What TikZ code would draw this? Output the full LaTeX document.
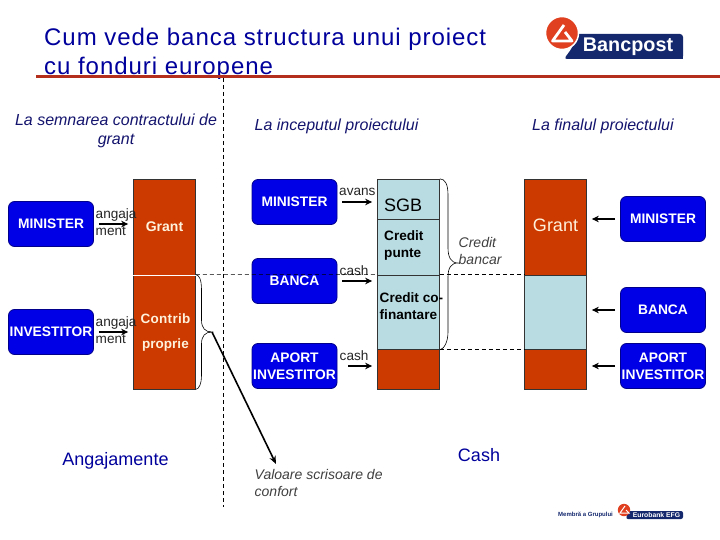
\documentclass[tikz,border=0pt]{standalone}
\usepackage{fontspec}
\setmainfont{Liberation Sans}
\usetikzlibrary{arrows.meta}
\definecolor{boxblue}{HTML}{0000E6}
\definecolor{boxedge}{HTML}{00008C}
\definecolor{navytext}{HTML}{00009C}
\definecolor{labeltext}{HTML}{14146E}
\definecolor{colred}{HTML}{CC3A00}
\definecolor{colblue}{HTML}{B8DCE2}
\definecolor{rulered}{HTML}{B5301C}
\definecolor{logonavy}{HTML}{14286E}
\definecolor{logored}{HTML}{E04020}
\definecolor{cream}{HTML}{FFF2DC}
\newcommand{\fs}[2]{\fontsize{#1}{#2}\selectfont}
\tikzset{
  actor/.style={draw=boxedge,line width=0.8pt,fill=boxblue,rounded corners=6pt,minimum width=85pt,minimum height=45pt,inner sep=0pt,text=white,font=\fs{13.8}{25}\bfseries,align=center},
  redcol/.style={draw=black!80,line width=0.7pt,fill=colred,minimum width=62pt,inner sep=0pt,text=cream,align=center},
  bluecol/.style={draw=black!80,line width=0.7pt,fill=colblue,minimum width=62pt,inner sep=0pt,align=center},
  flow/.style={line width=1.6pt,-{Stealth[length=7pt,width=6.5pt]}},
  dashline/.style={dashed,line width=0.6pt,dash pattern=on 4pt off 3pt},
  bracepath/.style={line width=0.6pt,black},
  smalllab/.style={inner sep=0pt,font=\fs{13.6}{16},text=black!85},
  phase/.style={inner sep=0pt,font=\fs{16}{18.5}\itshape,text=labeltext,align=center},
  heading/.style={inner sep=0pt,font=\fs{18}{20},text=navytext}
}
\begin{document}
\begin{tikzpicture}[x=1pt,y=-1pt]
\useasboundingbox (0,0) rectangle (720,540);
\fill[white] (0,0) rectangle (720,540);
% title
\node[inner sep=0pt,anchor=base west,text=navytext,font=\fs{24}{29}] (title1) at (44,46) {\addfontfeature{LetterSpace=4}Cum vede banca structura unui proiect};
\node[inner sep=0pt,anchor=base west,text=navytext,font=\fs{24}{29}] (title2) at (44,75) {\addfontfeature{LetterSpace=4}cu fonduri europene};
\draw[rulered,line width=3pt] (36,77) -- (720,77);
% logo
\fill[logonavy,rounded corners=3pt] (576,34) -- (683,34) -- (683,59) -- (572,59) -- (564,59) -- (572,48) -- cycle;
\fill[logonavy] (683,50) rectangle (680,59);
\fill[logored,draw=white,line width=1.5pt] (562,33) circle (16.5);
\draw[white,line width=2.8pt,line join=round] (564,25) -- (552.5,41) -- (572,41) -- (565,32);
\node[inner sep=0pt,text=white,font=\fs{19.8}{24}\bfseries] (bancpost) at (628,46.5) {Bancpost};
% footer logo
\node[inner sep=0pt,anchor=west,text=logonavy,font=\fs{6}{7}\bfseries] (membra) at (558,515) {Membră a Grupului};
\fill[logonavy,rounded corners=2pt] (628,511) -- (683,511) -- (683,519) -- (626,519) -- cycle;
\fill[logored] (624,510) circle (6.2);
\draw[white,line width=1pt] (625,506) -- (620,513) -- (629,513) -- (626,510);
\node[inner sep=0pt,text=white,font=\fs{6.8}{8}\bfseries] (eurobank) at (656.5,515) {Eurobank EFG};
% phase labels
\node[phase] (ph1) at (116,131) {La semnarea contractului de\\grant};
\node[phase,anchor=west] (ph2) at (254.5,126) {La inceputul proiectului};
\node[phase,anchor=west] (ph3) at (532,126) {La finalul proiectului};
% left column
\node[redcol,minimum height=95.5pt,font=\fs{14}{16}\bfseries] (lgrant) at (164.5,227.3) {\raisebox{2pt}{Grant}};
\node[redcol,minimum height=114pt] (lcontrib) at (164.5,332) {};
\draw[white,line width=1pt] (lgrant.south west) -- (lgrant.south east);
\node[inner sep=0pt,text=cream,font=\fs{13.5}{25}\bfseries,align=center] (lcontribtxt) at (165.5,333) {\addfontfeature{LetterSpace=2}Contrib\\proprie};
% mid column
\node[bluecol,minimum height=40pt] (msgb) at (408.5,199.2) {};
\node[bluecol,minimum height=56pt] (mpunte) at (408.5,247) {};
\node[bluecol,minimum height=74.5pt] (mcofin) at (408.5,312.2) {};
\node[redcol,minimum height=40pt] (mred) at (408.5,369.2) {};
\node[inner sep=0pt,anchor=west,font=\fs{18}{20}] (sgbt) at (384,205) {SGB};
\node[inner sep=0pt,anchor=west,font=\fs{13.6}{17}\bfseries,align=left] (puntet) at (384,245.5) {Credit\\punte};
\node[inner sep=0pt,anchor=west,font=\fs{13.6}{17}\bfseries,align=left] (cofint) at (379.5,306) {Credit co-\\finantare};
% right column
\node[redcol,minimum height=95.5pt,font=\fs{18}{20}] (rgrant) at (555.5,227.3) {\raisebox{4pt}{Grant}};
\node[bluecol,minimum height=74.5pt] (rblue) at (555.5,312.2) {};
\node[redcol,minimum height=40pt] (rred) at (555.5,369.2) {};
% actors left
\node[actor] (lmin) at (51,224) {MINISTER};
\node[actor] (linv) at (51,332) {INVESTITOR};
% actors mid
\node[actor] (mmin) at (294.5,202) {MINISTER};
\node[actor] (mban) at (294.5,281) {BANCA};
\node[actor,font=\fs{13.8}{17}\bfseries] (mapo) at (294.5,366) {APORT\\INVESTITOR};
% actors right
\node[actor] (rmin) at (663,219) {MINISTER};
\node[actor] (rban) at (663,310) {BANCA};
\node[actor,font=\fs{13.8}{17}\bfseries] (rapo) at (663,366) {APORT\\INVESTITOR};
% flows
\draw[flow] ([xshift=5]lmin.east) -- ([xshift=-5]lmin.east -| lgrant.west);
\draw[flow] ([xshift=5]linv.east) -- ([xshift=-5]linv.east -| lcontrib.west);
\draw[flow] ([xshift=5]mmin.east) -- ([xshift=-5]mmin.east -| msgb.west);
\draw[flow] ([xshift=5]mban.east) -- ([xshift=-5]mban.east -| mcofin.west);
\draw[flow] ([xshift=11]mapo.east) -- ([xshift=-5]mapo.east -| mred.west);
\draw[flow] ([xshift=-5]rmin.west) -- ([xshift=5]rmin.west -| rgrant.east);
\draw[flow] ([xshift=-5]rban.west) -- ([xshift=5]rban.west -| rblue.east);
\draw[flow] ([xshift=-5]rapo.west) -- ([xshift=5]rapo.west -| rred.east);
% flow labels
\node[smalllab,anchor=west] (a1) at (95.5,215) {angaja};
\node[smalllab,anchor=west] (a2) at (95.5,231) {ment};
\node[smalllab,anchor=west] (a3) at (95.5,322.5) {angaja};
\node[smalllab,anchor=west] (a4) at (95.5,339) {ment};
\node[smalllab,anchor=west] (av) at (339,192) {avans};
\node[smalllab,anchor=west] (c1) at (339.5,271) {cash};
\node[smalllab,anchor=west] (c2) at (339.5,356) {cash};
% dashed
\draw[dashline] (223,78) -- (223,507);
\draw[dashline] (lcontrib.north east) -- (mcofin.north west);
\draw[dashline] (mcofin.north east) -- (rblue.north west);
\draw[dashline] (mred.north east) -- (rred.north west);
% braces
\coordinate (tipL) at (212,332);
\coordinate (tipM) at (458,263);
\draw[bracepath] (lcontrib.north east) .. controls (199,275) and (201.5,279) .. (201.5,290) -- (201.5,320) .. controls (201.5,328) and (205,332) .. (tipL) .. controls (205,332) and (201.5,336) .. (201.5,344) -- (201.5,375) .. controls (201.5,384) and (199,389) .. (lcontrib.south east);
\draw[bracepath] (msgb.north east) .. controls (445,179) and (448,184) .. (448,195) -- (448,248) .. controls (448,257) and (451,263) .. (tipM) .. controls (451,263) and (448,268) .. (448,277) -- (448,332) .. controls (448,342) and (444,349) .. (mcofin.south east);
\node[inner sep=0pt,font=\fs{14}{16.5}\itshape,text=black!75,align=left,anchor=west] (cb) at (458.5,251) {Credit\\bancar};
% commitment arrow
\coordinate (confortend) at (276,464);
\draw[line width=1.6pt,-{Stealth[length=8pt,width=6.5pt]}] (tipL) -- (confortend);
\node[inner sep=0pt,anchor=west,font=\fs{14}{16.5}\itshape,text=black!75,align=left] (val) at (254.5,483) {Valoare scrisoare de\\confort};
\node[heading] (ang) at (115.5,461) {Angajamente};
\node[heading] (cash) at (479,455) {Cash};
\end{tikzpicture}
\end{document}
